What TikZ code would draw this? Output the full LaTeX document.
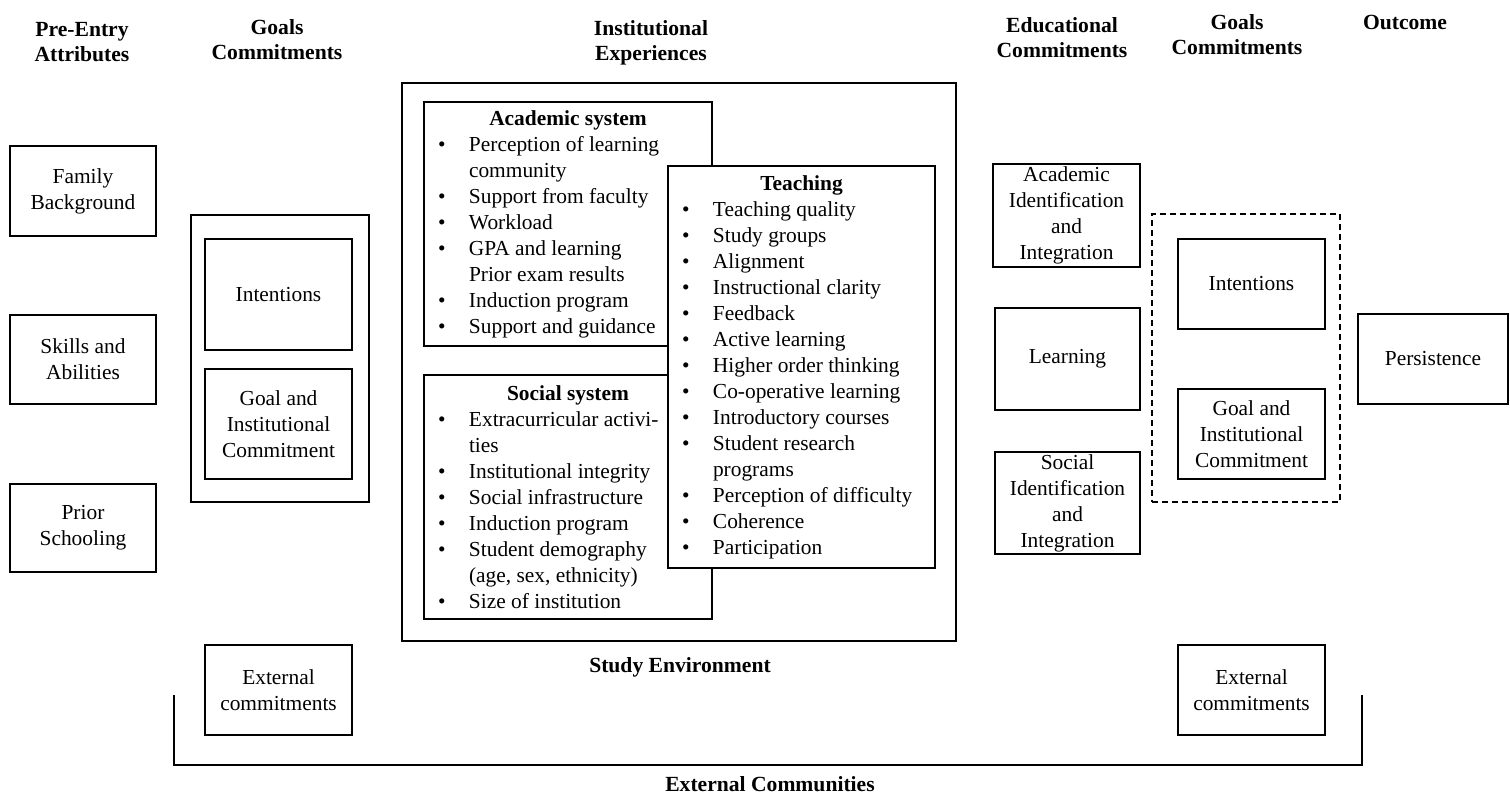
\documentclass[tikz,border=0pt]{standalone}
\usepackage{fontspec}
\setmainfont{Liberation Serif}
\usetikzlibrary{positioning}

\newcommand{\blt}{\hspace*{1pt}\makebox[15.5pt][l]{\textbullet}}
\newcommand{\cnt}{\hspace*{16.5pt}}
\newcommand{\ttl}[1]{\makebox[\linewidth]{\textbf{#1}}}

\begin{document}
\begin{tikzpicture}[
  x=0.5pt, y=-0.5pt,
  box/.style={draw, line width=1pt, inner sep=0pt, align=center,
              font=\fontsize{10.7}{13}\selectfont},
  listbox/.style={draw, line width=1pt, fill=white, inner xsep=6pt,
                  inner ysep=0pt, align=flush left,
                  font=\fontsize{10.7}{13}\selectfont},
  group/.style={draw, line width=1pt, inner sep=0pt},
  head/.style={align=center, font=\bfseries\fontsize{10.8}{12.5}\selectfont}
]
\useasboundingbox (0,0) rectangle (1510,796);

\node[head] (hPre) at (82,42) {Pre-Entry\\Attributes};
\node[head] (hGoalL) at (277,40) {Goals\\Commitments};
\node[head] (hInst) at (651,43) {Institutional\\Experiences};
\node[head] (hEdu) at (1062,38) {Educational\\Commitments};
\node[head] (hGoalR) at (1237,35) {Goals\\Commitments};
\node[head] (hOut) at (1405,22) {Outcome};

\node[box, minimum width=73pt, minimum height=45pt] (family) at (83,191) {Family\\Background};
\node[box, minimum width=73pt, minimum height=44.5pt] (skills) at (83,359.5) {Skills and\\Abilities};
\node[box, minimum width=73pt, minimum height=44pt] (prior) at (83,528) {Prior\\Schooling};

\node[group, minimum width=89pt, minimum height=143.5pt] (goalsL) at (280,358.5) {};
\node[box, minimum width=73.5pt, minimum height=55.5pt] (intentL) at (278.5,294.5) {Intentions};
\node[box, minimum width=73.5pt, minimum height=55pt] (commitL) at (278.5,424) {Goal and\\Institutional\\Commitment};

\node[group, minimum width=277pt, minimum height=279pt] (inst) at (679,362) {};
\node[listbox, text width=132pt, minimum height=122pt] (academic) at (568,224) {%
\ttl{Academic system}\\
\blt Perception of learning\\
\cnt community\\
\blt Support from faculty\\
\blt Workload\\
\blt GPA and learning\\
\cnt Prior exam results\\
\blt Induction program\\
\blt Support and guidance};
\node[listbox, text width=132pt, minimum height=122pt] (social) at (568,497) {%
\ttl{Social system}\\
\blt Extracurricular activi-\\
\cnt ties\\
\blt Institutional integrity\\
\blt Social infrastructure\\
\blt Induction program\\
\blt Student demography\\
\cnt (age, sex, ethnicity)\\
\blt Size of institution};
\node[listbox, text width=121.5pt, minimum height=201pt] (teaching) at (801.5,367) {%
\ttl{Teaching}\\
\blt Teaching quality\\
\blt Study groups\\
\blt Alignment\\
\blt Instructional clarity\\
\blt Feedback\\
\blt Active learning\\
\blt Higher order thinking\\
\blt Co-operative learning\\
\blt Introductory courses\\
\blt Student research\\
\cnt programs\\
\blt Perception of difficulty\\
\blt Coherence\\
\blt Participation};
\node[head] (lStudy) at (680,667) {Study Environment};

\node[box, minimum width=73.5pt, minimum height=51.5pt] (acadId) at (1066.5,215.5) {Academic\\Identification\\and\\Integration};
\node[box, minimum width=72.5pt, minimum height=51pt] (learning) at (1067.5,359) {Learning};
\node[box, minimum width=72.5pt, minimum height=51pt] (socId) at (1067.5,503) {Social\\Identification\\and\\Integration};

\node[group, dashed, dash pattern=on 3pt off 2pt, minimum width=94pt, minimum height=144pt] (goalsR) at (1246,358) {};
\node[box, minimum width=73.5pt, minimum height=45pt] (intentR) at (1251.5,284) {Intentions};
\node[box, minimum width=73.5pt, minimum height=45pt] (commitR) at (1251.5,434) {Goal and\\Institutional\\Commitment};

\node[box, minimum width=75pt, minimum height=45pt] (persist) at (1433,359) {Persistence};

\node[box, minimum width=73.5pt, minimum height=45pt] (extL) at (278.5,690) {External\\commitments};
\node[box, minimum width=73.5pt, minimum height=45pt] (extR) at (1251.5,690) {External\\commitments};

\draw[line width=1pt] (174,695) -- (174,765) -- (1362,765) -- (1362,695);
\node[head] (lExt) at (770,784) {External Communities};
\end{tikzpicture}
\end{document}
